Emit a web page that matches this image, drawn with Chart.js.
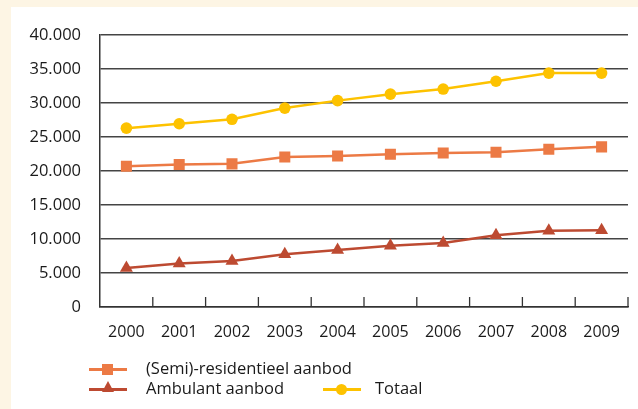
<!DOCTYPE html>
<html lang="nl">
<head>
  <meta charset="UTF-8" />
  <title>Aanbod 2000-2009</title>
  <style>
    body {
      margin: 0;
      background: #fdf5e4;
      font-family: "Open Sans", Arial, sans-serif;
    }
    .panel {
      position: absolute;
      left: 11px;
      top: 7px;
      width: 627px;
      height: 402px;
      background: #ffffff;
    }
    #wrap {
      position: absolute;
      left: 0;
      top: 0;
      width: 638px;
      height: 409px;
    }
    .legend {
      position: absolute;
      font-size: 16.5px;
      color: #1a1a1a;
      line-height: 20px;
    }
    .item {
      position: absolute;
      white-space: nowrap;
    }
    .mk {
      position: absolute;
      top: 9px;
      width: 38px;
      height: 2.5px;
    }
    .mk i {
      position: absolute;
      left: 13px;
    }
    .txt { position: absolute; top: -1px; }
  </style>
  <script src="https://cdn.jsdelivr.net/npm/chart.js"></script>
</head>
<body>
  <div class="panel"></div>
  <div id="wrap"><canvas id="chart" width="638" height="409"></canvas></div>

  <div class="legend">
    <div class="item" style="left:89px;top:359px;">
      <span class="mk" style="background:#ec7a45;"><i style="top:-4.5px;width:11px;height:11px;background:#ec7a45;"></i></span>
      <span class="txt" style="left:57px;">(Semi)-residentieel aanbod</span>
    </div>
    <div class="item" style="left:89px;top:379px;">
      <span class="mk" style="background:#bd4a31;"><i style="top:-7px;left:13px;width:0;height:0;border-left:6.5px solid transparent;border-right:6.5px solid transparent;border-bottom:11px solid #bd4a31;"></i></span>
      <span class="txt" style="left:57px;">Ambulant aanbod</span>
    </div>
    <div class="item" style="left:323px;top:379px;">
      <span class="mk" style="background:#fdc200;"><i style="top:-4.5px;width:11px;height:11px;border-radius:50%;background:#fdc200;"></i></span>
      <span class="txt" style="left:52px;">Totaal</span>
    </div>
  </div>

  <script>
    const years = ["2000", "2001", "2002", "2003", "2004", "2005", "2006", "2007", "2008", "2009"];
    const semiResidentieel = [20700, 20950, 21050, 22050, 22200, 22450, 22650, 22750, 23200, 23550];
    const ambulant = [5750, 6400, 6750, 7750, 8400, 9000, 9400, 10550, 11200, 11300];
    const totaal = [26300, 26950, 27600, 29250, 30350, 31300, 32050, 33200, 34400, 34400];
    const yTicks = [0, 5000, 10000, 15000, 20000, 25000, 30000, 35000, 40000];

    // small tick marks between the years, drawn upward inside the plot
    const innerTicks = {
      id: "innerTicks",
      afterDraw(chart) {
        const x = chart.scales.x;
        const area = chart.chartArea;
        const ctx = chart.ctx;
        ctx.save();
        ctx.strokeStyle = "#333";
        ctx.lineWidth = 1.3;
        for (let i = 1; i <= years.length; i++) {
          const px = i < years.length
            ? (x.getPixelForTick(i - 1) + x.getPixelForTick(i)) / 2
            : area.right;
          ctx.beginPath();
          ctx.moveTo(px, area.bottom);
          ctx.lineTo(px, area.bottom - 10);
          ctx.stroke();
        }
        ctx.restore();
      }
    };

    const ctx = document.getElementById("chart").getContext("2d");
    new Chart(ctx, {
      type: "line",
      data: {
        labels: years,
        datasets: [
          {
            label: "(Semi)-residentieel aanbod",
            data: semiResidentieel,
            borderColor: "#ec7a45",
            backgroundColor: "#ec7a45",
            borderWidth: 2.5,
            pointStyle: "rect",
            pointRadius: 7.8,
            pointBorderWidth: 0
          },
          {
            label: "Ambulant aanbod",
            data: ambulant,
            borderColor: "#bd4a31",
            backgroundColor: "#bd4a31",
            borderWidth: 2.5,
            pointStyle: "triangle",
            pointRadius: 7.5,
            pointBorderWidth: 0
          },
          {
            label: "Totaal",
            data: totaal,
            borderColor: "#fdc200",
            backgroundColor: "#fdc200",
            borderWidth: 2.5,
            pointStyle: "circle",
            pointRadius: 5.8,
            pointBorderWidth: 0
          }
        ]
      },
      options: {
        responsive: false,
        animation: false,
        layout: { padding: { left: 0, top: 35, right: 10, bottom: 0 } },
        plugins: {
          legend: { display: false },
          tooltip: { enabled: false }
        },
        scales: {
          x: {
            offset: true,
            grid: { display: false, drawTicks: false },
            border: { color: "#333", width: 1.5 },
            ticks: {
              padding: 16,
              color: "#1a1a1a",
              font: { family: "Open Sans", size: 16 }
            },
            afterFit(scale) { scale.height = 102; }
          },
          y: {
            min: 0,
            max: 40000,
            afterBuildTicks(scale) { scale.ticks = yTicks.map(v => ({ value: v })); },
            grid: { color: "#444", lineWidth: 1.5, drawTicks: false },
            border: { color: "#333", width: 1.5 },
            ticks: {
              padding: 19,
              color: "#1a1a1a",
              font: { family: "Open Sans", size: 16.5 },
              callback: v => v === 0 ? "0" : (v / 1000) + ".000"
            },
            afterFit(scale) { scale.width = 100; }
          }
        }
      },
      plugins: [innerTicks]
    });
  </script>
</body>
</html>
